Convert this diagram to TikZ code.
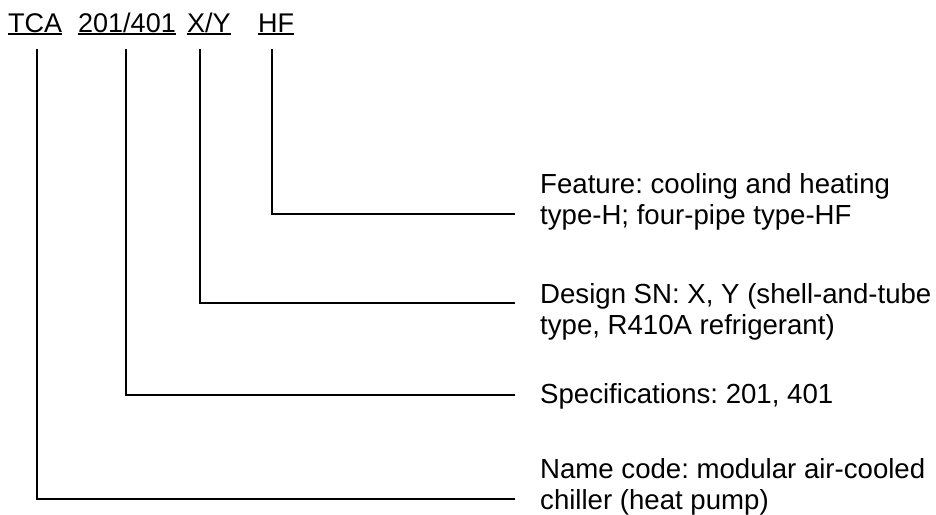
\documentclass[tikz,border=0pt]{standalone}
\usepackage{fontspec}
\setmainfont{Liberation Sans}
\usetikzlibrary{calc}
\frenchspacing

\begin{document}
\begin{tikzpicture}[x=1pt,y=-1pt,
  code/.style={anchor=base west,inner sep=0,font=\fontsize{27}{31}\selectfont},
  desc/.style={anchor=base west,inner sep=0,align=left,font=\fontsize{27.6}{31}\selectfont},
  uline/.style={line width=1.5pt},
  lead/.style={line width=1.8pt}]
\useasboundingbox (0,0) rectangle (936,514);
% model code
\node[code] (tca) at (8,32) {TCA};
\node[code] (size) at (78,32) {201/401};
\node[code] (sn) at (187,32) {X/Y};
\node[code] (feat) at (258,32) {HF};
\foreach \n in {tca,size,sn,feat}
  \draw[uline] ([yshift=-2pt]\n.base west) -- ([yshift=-2pt]\n.base east);
% meanings (base = last line)
\node[desc] (featTxt) at (540,224) {Feature: cooling and heating\\type-H; four-pipe type-HF};
\node[desc] (snTxt) at (540,334) {Design SN: X, Y (shell-and-tube\\type, R410A refrigerant)};
\node[desc] (sizeTxt) at (540,403) {Specifications: 201, 401};
\node[desc] (tcaTxt) at (540,509) {Name code: modular air-cooled\\chiller (heat pump)};
% leaders
\foreach \n/\x/\y in {tca/37/499,size/126/395,sn/200/303,feat/272/214} {
  \coordinate (\n top) at (\x,49);
  \coordinate (\n end) at (515,\y);
  \draw[lead] (\n top) |- (\n end);
}
\end{tikzpicture}
\end{document}
